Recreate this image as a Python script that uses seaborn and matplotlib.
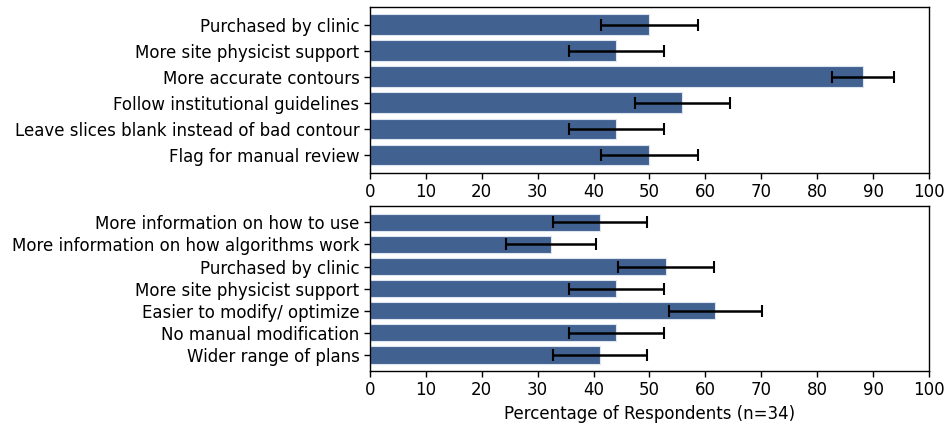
import numpy as np
import pandas as pd
import matplotlib
matplotlib.use("Agg")
import matplotlib.pyplot as plt
import seaborn as sns

# top panel (contouring)
top_labels = ['Purchased by clinic', 'More site physicist support', 'More accurate contours',
              'Follow institutional guidelines', 'Leave slices blank instead of bad contour',
              'Flag for manual review']
top_pct = [50.0, 44.1, 88.2, 55.9, 44.1, 50.0]
top_err = [8.6, 8.5, 5.5, 8.5, 8.5, 8.6]

# bottom panel (planning)
bot_labels = ['More information on how to use', 'More information on how algorithms work',
              'Purchased by clinic', 'More site physicist support', 'Easier to modify/ optimize',
              'No manual modification', 'Wider range of plans']
bot_pct = [41.2, 32.4, 52.9, 44.1, 61.8, 44.1, 41.2]
bot_err = [8.4, 8.0, 8.6, 8.5, 8.3, 8.5, 8.4]

bar_color = '#416190'

sns.set_style('ticks')
plt.rcParams['font.family'] = ['DejaVu Sans']
plt.rcParams['text.color'] = 'black'
plt.rcParams['xtick.color'] = 'black'
plt.rcParams['ytick.color'] = 'black'
plt.rcParams['axes.labelcolor'] = 'black'

fig = plt.figure(figsize=(9.46, 4.25), dpi=100)
ax1 = fig.add_axes([0.391, 0.593, 0.591, 0.391])
ax2 = fig.add_axes([0.391, 0.127, 0.591, 0.388])


def panel(ax, labels, pct, err):
    df = pd.DataFrame({'label': labels, 'pct': pct})
    sns.barplot(data=df, x='pct', y='label', orient='h', color=bar_color,
                saturation=1, width=0.8, edgecolor='#dce4ef', linewidth=0.8,
                errorbar=None, ax=ax)
    ax.errorbar(pct, np.arange(len(pct)), xerr=err, fmt='none', ecolor='black',
                elinewidth=1.8, capsize=4, capthick=1.5)
    n = len(labels)
    pad = 0.05 * (n - 0.2)
    ax.set_ylim(n - 0.6 + pad, -0.4 - pad)
    ax.set_xlim(0, 100)
    ax.set_xticks(range(0, 101, 10))
    ax.set_ylabel('')
    ax.set_xlabel('')
    ax.tick_params(axis='both', labelsize=12, length=4, width=1, color='black',
                   labelcolor='black')
    for s in ax.spines.values():
        s.set_visible(True)
        s.set_color('black')
        s.set_linewidth(1)


panel(ax1, top_labels, top_pct, top_err)
panel(ax2, bot_labels, bot_pct, bot_err)
ax2.set_xlabel('Percentage of Respondents (n=34)', fontsize=12)

fig.savefig('out.png', dpi=100)
